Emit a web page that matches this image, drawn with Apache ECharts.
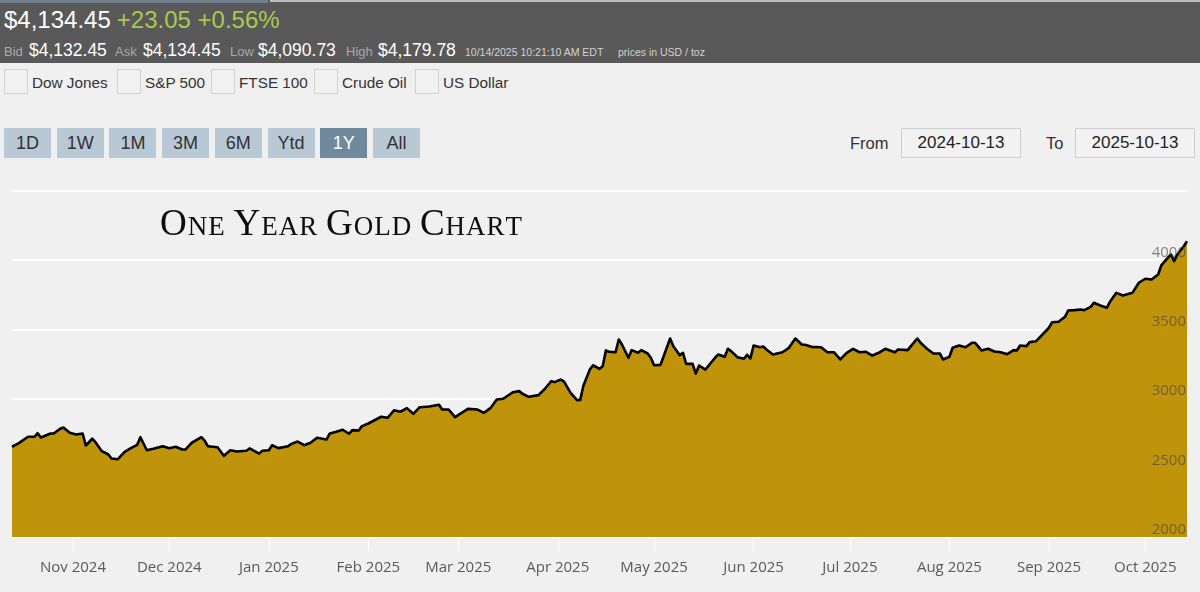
<!DOCTYPE html>
<html>
<head>
<meta charset="utf-8">
<script src="https://cdn.jsdelivr.net/npm/echarts@6/dist/echarts.min.js"></script>
<style>
  html, body { margin: 0; padding: 0; width: 1200px; height: 592px; overflow: hidden; background: #f0f0f0; font-family: 'Liberation Sans', Arial, sans-serif; }
  .abs { position: absolute; }
  #bar { left: 0; top: 0; width: 1200px; height: 63px; background: #595959; }
  #stripA { left: 0; top: 0; width: 268px; height: 3px; background: #72808e; }
  #stripB { left: 270px; top: 0; width: 930px; height: 2px; background: #bdbdbd; }
  #row1 { left: 4px; top: 5px; height: 30px; line-height: 30px; font-size: 24px; white-space: nowrap; color: #fff; }
  #row1 .chg { color: #a9c94f; margin-left: 6px; }
  #row2 { left: 4px; top: 39.5px; height: 20px; line-height: 20px; font-size: 17.5px; white-space: nowrap; }
  #row2 span { display: inline-block; }
  .lbl { font-size: 13px; color: #a8a8a8; }
  .val { color: #ffffff; font-size: 17.5px; }
  .tiny { font-size: 10.5px; color: #d2d2d2; }
  .cb { top: 69px; width: 22px; height: 23px; border: 1px solid #d2d2d2; background: #f1f1f1; }
  .cbl { top: 70px; height: 25px; line-height: 25px; font-size: 15.3px; color: #333; white-space: nowrap; }
  .btn { top: 128px; width: 47px; height: 30px; line-height: 30px; text-align: center; font-size: 18px; color: #333; background: #b8c8d4; }
  .btn.on { background: #6f8a9c; color: #fff; }
  .dlab { top: 128px; height: 30px; line-height: 30px; font-size: 16.5px; color: #333; }
  .dbox { top: 128px; width: 118px; height: 28px; line-height: 28px; border: 1px solid #cfcfcf; background: #f2f2f2; text-align: center; font-size: 17px; color: #222; }
  #chart { left: 0; top: 170px; width: 1200px; height: 422px; }
</style>
</head>
<body>
<div id="bar" class="abs"></div>
<div id="stripA" class="abs"></div>
<div id="stripB" class="abs"></div>
<div id="row1" class="abs"></div>
<div id="row2" class="abs"></div>
<div id="compare"></div>
<div id="buttons"></div>
<div id="range"></div>
<div id="chart" class="abs"></div>
<script>
// ---------- header texts ----------
const lastPrice = '$4,134.45';
const changeText = '+23.05 +0.56%';
const quoteLabels = ['Bid', 'Ask', 'Low', 'High'];
const quoteValues = ['$4,132.45', '$4,134.45', '$4,090.73', '$4,179.78'];
const timeStamp = '10/14/2025 10:21:10 AM EDT';
const unitText = 'prices in USD / toz';
const compareNames = ['Dow Jones', 'S&P 500', 'FTSE 100', 'Crude Oil', 'US Dollar'];
const rangeButtons = ['1D', '1W', '1M', '3M', '6M', 'Ytd', '1Y', 'All'];
const activeRange = '1Y';
const fromDate = '2024-10-13';
const toDate = '2025-10-13';
const chartTitle = 'One Year Gold Chart';

// ---------- chart data ----------
const dates = [
  '2024-10-13','2024-10-15','2024-10-18','2024-10-20','2024-10-21','2024-10-22','2024-10-25','2024-10-26','2024-10-28','2024-10-29','2024-10-31',
  '2024-11-02','2024-11-04','2024-11-05','2024-11-07','2024-11-08','2024-11-10','2024-11-12','2024-11-13','2024-11-15','2024-11-17','2024-11-19','2024-11-21','2024-11-22','2024-11-24','2024-11-26','2024-11-29',
  '2024-12-01','2024-12-03','2024-12-05','2024-12-06','2024-12-08','2024-12-11','2024-12-12','2024-12-13','2024-12-16','2024-12-18','2024-12-20','2024-12-22','2024-12-25','2024-12-26','2024-12-29','2024-12-30',
  '2025-01-01','2025-01-02','2025-01-04','2025-01-07','2025-01-08','2025-01-10','2025-01-12','2025-01-14','2025-01-16','2025-01-19','2025-01-20','2025-01-22','2025-01-24','2025-01-26','2025-01-27','2025-01-29','2025-01-30',
  '2025-02-01','2025-02-05','2025-02-07','2025-02-09','2025-02-11','2025-02-13','2025-02-15','2025-02-17','2025-02-20','2025-02-23','2025-02-24','2025-02-26','2025-02-28',
  '2025-03-04','2025-03-07','2025-03-09','2025-03-11','2025-03-13','2025-03-15','2025-03-18','2025-03-20','2025-03-21','2025-03-23','2025-03-26','2025-03-28','2025-03-30','2025-03-31',
  '2025-04-02','2025-04-03','2025-04-05','2025-04-07','2025-04-08','2025-04-09','2025-04-11','2025-04-12','2025-04-14','2025-04-15','2025-04-16','2025-04-17','2025-04-19','2025-04-20','2025-04-21','2025-04-23','2025-04-24','2025-04-26','2025-04-27','2025-04-29','2025-04-30',
  '2025-05-01','2025-05-03','2025-05-06','2025-05-07','2025-05-09','2025-05-10','2025-05-11','2025-05-13','2025-05-14','2025-05-15','2025-05-17','2025-05-20','2025-05-21','2025-05-23','2025-05-24','2025-05-25','2025-05-27','2025-05-29','2025-05-30','2025-05-31',
  '2025-06-01','2025-06-03','2025-06-04','2025-06-05','2025-06-07','2025-06-10','2025-06-12','2025-06-14','2025-06-16','2025-06-17','2025-06-19','2025-06-22','2025-06-24','2025-06-26','2025-06-28','2025-06-30',
  '2025-07-02','2025-07-04','2025-07-06','2025-07-08','2025-07-10','2025-07-12','2025-07-15','2025-07-16','2025-07-19','2025-07-20','2025-07-22','2025-07-23','2025-07-25','2025-07-27','2025-07-29','2025-07-30',
  '2025-08-01','2025-08-02','2025-08-04','2025-08-06','2025-08-08','2025-08-09','2025-08-11','2025-08-13','2025-08-15','2025-08-17','2025-08-19','2025-08-21','2025-08-22','2025-08-23','2025-08-25','2025-08-26','2025-08-28','2025-08-30',
  '2025-09-01','2025-09-02','2025-09-04','2025-09-06','2025-09-07','2025-09-09','2025-09-11','2025-09-12','2025-09-14','2025-09-15','2025-09-17','2025-09-19','2025-09-20','2025-09-22','2025-09-24','2025-09-27','2025-09-29',
  '2025-10-01','2025-10-03','2025-10-05','2025-10-06','2025-10-08','2025-10-09','2025-10-10','2025-10-11','2025-10-13','2025-10-14'
];
const prices = [
  2652,2676,2724,2724,2750,2719,2748,2748,2782,2791,2753,
  2741,2748,2661,2710,2685,2620,2596,2567,2562,2613,2642,2666,2721,2627,2637,2656,
  2642,2652,2632,2632,2681,2721,2697,2656,2649,2587,2627,2618,2623,2640,2603,2623,
  2627,2663,2642,2656,2673,2690,2663,2681,2717,2705,2748,2760,2775,2746,2772,2770,2801,
  2820,2869,2861,2916,2905,2931,2890,2938,2943,2955,2921,2921,2866,
  2926,2921,2897,2931,2994,2999,3046,3054,3035,3013,3025,3071,3126,3119,
  3138,3121,3042,2989,2991,3095,3210,3241,3215,3234,3348,3338,3335,3427,3391,3295,3350,3331,3350,3326,3295,
  3241,3244,3434,3379,3314,3331,3251,3251,3181,3239,3210,3295,3319,3302,3360,3343,3299,3288,3317,3290,
  3384,3371,3376,3355,3319,3335,3367,3434,3391,3389,3374,3371,3335,3335,3283,3331,
  3360,3335,3338,3311,3331,3360,3335,3355,3350,3379,3434,3403,3360,3326,3326,3283,
  3302,3367,3384,3371,3403,3403,3348,3360,3340,3335,3321,3350,3348,3384,3379,3408,3415,3463,
  3512,3552,3555,3591,3637,3639,3644,3639,3663,3692,3673,3656,3699,3764,3745,3764,3837,
  3866,3861,3897,3962,4017,4041,3993,4041,4101,4137
];
const yMin = 2000, yMax = 4500, yStep = 500;
const monthTickDates = ['2024-11-01','2024-12-01','2025-01-01','2025-02-01','2025-03-01','2025-04-01','2025-05-01','2025-06-01','2025-07-01','2025-08-01','2025-09-01','2025-10-01'];
const monthTickLabels = ['Nov 2024','Dec 2024','Jan 2025','Feb 2025','Mar 2025','Apr 2025','May 2025','Jun 2025','Jul 2025','Aug 2025','Sep 2025','Oct 2025'];

// ---------- build header ----------
document.getElementById('row1').innerHTML = '<span>' + lastPrice + '</span><span class="chg">' + changeText + '</span>';
const r2Widths = [[25, 86], [28, 87], [28, 88], [32, 87]];
let r2 = '';
quoteLabels.forEach((l, i) => {
  r2 += '<span class="lbl" style="width:' + r2Widths[i][0] + 'px">' + l + '</span>';
  r2 += '<span class="val" style="width:' + r2Widths[i][1] + 'px">' + quoteValues[i] + '</span>';
});
r2 += '<span class="tiny" style="width:153px">' + timeStamp + '</span><span class="tiny">' + unitText + '</span>';
document.getElementById('row2').innerHTML = r2;

const cmp = document.getElementById('compare');
const cbLeft = [4, 117, 211, 314, 415];
compareNames.forEach((n, i) => {
  const b = document.createElement('div'); b.className = 'abs cb'; b.style.left = cbLeft[i] + 'px'; cmp.appendChild(b);
  const t = document.createElement('div'); t.className = 'abs cbl'; t.style.left = (cbLeft[i] + 28) + 'px'; t.textContent = n; cmp.appendChild(t);
});
const btnWrap = document.getElementById('buttons');
rangeButtons.forEach((n, i) => {
  const b = document.createElement('div');
  b.className = 'abs btn' + (n === activeRange ? ' on' : '');
  b.style.left = (4 + i * 52.7) + 'px';
  b.textContent = n;
  btnWrap.appendChild(b);
});
const rw = document.getElementById('range');
rw.innerHTML =
  '<div class="abs dlab" style="left:850px">From</div>' +
  '<div class="abs dbox" style="left:901px">' + fromDate + '</div>' +
  '<div class="abs dlab" style="left:1046px">To</div>' +
  '<div class="abs dbox" style="left:1075px">' + toDate + '</div>';

// ---------- chart ----------
const toTime = s => { const p = s.split('-').map(Number); return new Date(p[0], p[1] - 1, p[2]).getTime(); };
const seriesData = dates.map((d, i) => [toTime(d), prices[i]]);
const tickValues = monthTickDates.map(toTime);

// small-caps title: first letter of each word large, the rest small capitals
let titleText = '';
chartTitle.split(' ').forEach((w, wi, arr) => {
  const up = w.toUpperCase();
  titleText += '{b|' + up[0] + '}';
  for (let k = 1; k < up.length; k++) titleText += '{s|' + up[k] + '}';
  if (wi < arr.length - 1) titleText += '{s| }';
});

const chart = echarts.init(document.getElementById('chart'), null, { renderer: 'canvas' });
chart.setOption({
  animation: false,
  backgroundColor: 'transparent',
  title: {
    text: titleText,
    left: 160, top: 49, padding: 0,
    textStyle: {
      fontFamily: 'Liberation Serif', color: '#111', fontWeight: 'normal',
      rich: {
        b: { fontFamily: 'Liberation Serif', fontSize: 37, lineHeight: 25, color: '#0d0d0d', verticalAlign: 'bottom', padding: [0, 1, 0, 0] },
        s: { fontFamily: 'Liberation Serif', fontSize: 27, lineHeight: 25, color: '#0d0d0d', verticalAlign: 'bottom', padding: [0, 1, 2.2, 0] }
      }
    }
  },
  grid: { left: 12, right: 13, top: 21, bottom: 55 },
  xAxis: {
    type: 'value',
    min: seriesData[0][0],
    max: seriesData[seriesData.length - 1][0],
    axisLine: { show: false },
    axisTick: { show: true, length: 14, lineStyle: { color: '#ffffff', width: 1 }, customValues: tickValues },
    axisLabel: {
      customValues: tickValues,
      formatter: v => { const i = tickValues.indexOf(v); return i >= 0 ? monthTickLabels[i] : ''; },
      color: '#5a5a5a', fontSize: 15, fontFamily: 'Open Sans', margin: 23, hideOverlap: false
    },
    splitLine: { show: false }
  },
  yAxis: [
    {
      type: 'value', min: yMin, max: yMax, interval: yStep, position: 'right',
      axisLine: { show: false }, axisTick: { show: false }, axisLabel: { show: false },
      splitLine: { show: true, lineStyle: { color: '#ffffff', width: 2 } }
    },
    {
      type: 'value', min: yMin, max: yMax, interval: yStep, position: 'right', z: 5,
      axisLine: { show: false }, axisTick: { show: false }, splitLine: { show: false },
      axisLabel: {
        inside: true, margin: 1, color: 'rgba(70,70,70,0.65)', fontSize: 15, fontFamily: 'Open Sans',
        verticalAlign: 'bottom', lineHeight: 15, showMaxLabel: false,
        formatter: v => (v === yMax ? '' : String(v))
      }
    }
  ],
  series: [{
    type: 'line',
    yAxisIndex: 0,
    data: seriesData,
    showSymbol: false,
    symbol: 'none',
    silent: true,
    itemStyle: { color: '#000' },
    lineStyle: { color: '#000', width: 2.6, join: 'round' },
    areaStyle: { color: '#bf930a', opacity: 1 },
    z: 2
  }]
});
</script>
</body>
</html>
